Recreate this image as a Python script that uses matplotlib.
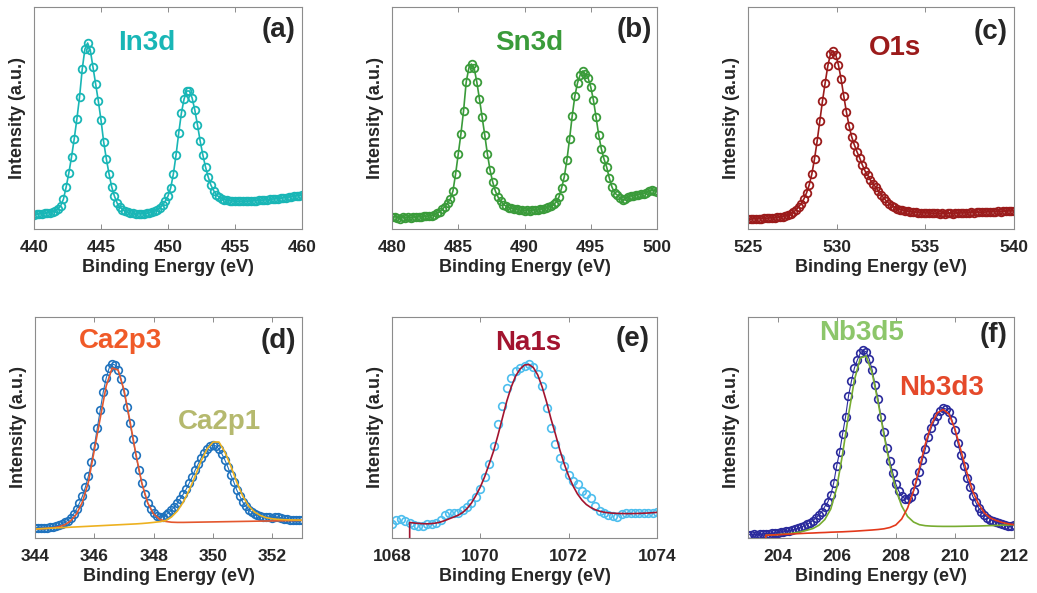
import numpy as np
import matplotlib
matplotlib.use('Agg')
import matplotlib.pyplot as plt

plt.rcParams['font.family'] = ['Liberation Sans', 'DejaVu Sans']
plt.rcParams['font.weight'] = 'bold'

# ---- (a) In3d, 440-460 eV every 0.2 eV ----
in3d_e = np.round(np.arange(440.0, 460.01, 0.2), 2)
in3d_i = [14.5, 14.8, 15.0, 15.3, 15.6, 16.0, 16.5, 17.2, 18.2, 20.0,
          23.5, 30, 42, 56, 72, 90, 110, 132, 160, 180,
          186, 179, 162, 145, 128, 109, 87, 70, 55, 42,
          33, 26, 22, 19.5, 17.8, 16.8, 16.0, 15.6, 15.3, 15.2,
          15.2, 15.3, 15.6, 16.2, 17.0, 18.0, 19.5, 21, 24, 28,
          33, 41, 55, 74, 96, 116, 130, 138, 138, 131,
          119, 104, 88, 74, 62, 52, 44, 38.5, 34.5, 32,
          30.5, 29.5, 28.8, 28.3, 28.0, 27.8, 27.7, 27.7, 27.7, 27.8,
          27.9, 28.0, 28.2, 28.4, 28.6, 28.8, 29.0, 29.3, 29.6, 29.9,
          30.2, 30.5, 30.8, 31.1, 31.5, 31.9, 32.3, 32.7, 33.1, 33.5, 34.0]

# ---- (b) Sn3d, 480-500 eV every 0.2 eV ----
sn3d_e = np.round(np.arange(480.0, 500.01, 0.2), 2)
sn3d_i = [12.0, 12.5, 11.5, 10.5, 11.8, 11.0, 12.2, 11.4, 12.0, 11.6,
          12.4, 12.0, 12.8, 12.6, 13.5, 13.2, 14.5, 15.8, 17.5, 19.8,
          22.5, 26, 30, 38, 55, 75, 95, 118, 147, 161,
          165, 161, 147, 130, 112, 94, 75, 59, 47, 38,
          32, 28, 24.5, 23, 21.5, 20.8, 20.0, 19.6, 19.0, 18.8,
          18.5, 19.2, 18.4, 18.9, 19.4, 19.0, 19.8, 20.3, 21.0, 22.0,
          23.0, 24.8, 27, 32, 41, 52, 69, 90, 113, 133,
          146, 154, 158, 155, 151, 142, 129, 112, 94, 80,
          70, 62, 51, 42, 36, 34, 31, 29, 30, 32.5,
          33, 33.5, 34, 34.5, 35, 35.5, 36.5, 38, 39, 38.5, 37.5]

# ---- (c) O1s, 525-540 eV every 0.15 eV ----
o1s_e = np.round(np.arange(525.0, 540.01, 0.15), 2)
o1s_i = [10.0, 9.8, 10.3, 10.1, 10.5, 10.4, 10.8, 10.6, 11.0, 11.2,
         11.1, 11.6, 12.0, 12.4, 13.0, 13.8, 15.0, 16.8, 19.0, 22.0,
         25.5, 30, 36, 44, 55, 70, 88, 108, 128, 146,
         163, 175, 178, 174, 164, 150, 133, 117, 103, 92,
         84, 77, 71, 64, 58, 54, 49, 45, 42, 38,
         34.5, 31, 28, 25.5, 23.5, 22, 20.5, 19.5, 18.8, 18.2,
         17.7, 17.3, 17.0, 16.8, 16.5, 16.3, 16.2, 16.0, 16.1, 15.8,
         15.6, 15.9, 15.4, 15.6, 15.3, 15.6, 15.8, 15.5, 16.0, 15.7,
         16.1, 16.0, 16.4, 16.2, 16.6, 16.4, 16.9, 16.7, 17.0, 16.8,
         17.3, 17.1, 17.5, 17.3, 17.6, 17.5, 17.9, 17.7, 18.1, 18.0, 18.3]

# ---- (d) Ca2p, data every 0.1 eV, fits every 0.2 eV ----
ca2p_e = np.round(np.arange(344.0, 353.01, 0.1), 2)
ca2p_i = [10.5, 10.2, 10.0, 10.4, 10.1, 10.6, 11.2, 12.0, 13.0, 14.2,
          15.8, 17.5, 20.5, 24, 29, 35, 42, 51, 62, 76,
          92, 110, 128, 146, 160, 170, 174, 173, 168, 159,
          146, 131, 115, 99, 83, 68, 55, 44, 35, 29,
          25, 22, 21, 21.5, 23, 25, 28, 31, 35, 39.5,
          44, 49, 55, 61, 68, 74, 80, 85, 89, 92,
          93, 92, 89, 84, 78, 71, 63, 56, 48, 42,
          36, 32, 28.5, 26, 24, 22.8, 22, 21.4, 21.0, 20.6,
          20.3, 20.6, 21.2, 20.1, 19.4, 18.8, 18.5, 18.2, 18.0, 17.8, 17.6]
ca2p_fit_e = np.r_[344.0, np.round(np.arange(344.0, 353.01, 0.2), 2)]
ca2p3_fit = [0, 9.0, 9.3, 9.6, 10.2, 11.2, 13.2, 17, 24, 36, 56,
             88, 120, 152, 170, 168, 148, 117, 84, 55, 35,
             24, 18.8, 16.6, 15.8, 15.6, 15.6, 15.7, 15.8, 15.9, 16.0,
             16.1, 16.2, 16.3, 16.4, 16.5, 16.6, 16.7, 16.8, 16.9, 17.0,
             17.1, 17.2, 17.3, 17.4, 17.5, 17.6]
ca2p1_fit = [0, 9.0, 9.3, 9.6, 9.9, 10.2, 10.5, 10.8, 11.1, 11.4, 11.7,
             12.0, 12.3, 12.6, 12.9, 13.2, 13.5, 13.8, 14.1, 14.5, 15.0,
             15.6, 16.3, 17.4, 21, 27, 36, 48, 62, 77, 89,
             96, 96, 86, 72, 56, 42, 32, 26, 22.5, 20.3,
             19.2, 18.6, 18.3, 18.1, 18.0, 17.9]

# ---- (e) Na1s ----
na1s_e = np.round(np.arange(1068.0, 1074.01, 0.1), 2)
na1s_i = [14.5, 18, 19.5, 17.5, 15, 13.5, 12, 12.3, 14, 14.5,
          15.5, 18, 23, 25, 25, 25.5, 28, 31.5, 35, 41,
          49, 61, 74, 92, 114, 132, 150, 160, 167, 170,
          172.5, 174, 171, 164, 152, 130, 110, 94, 80, 72,
          63, 57, 54, 47, 44, 40, 32, 27.5, 25, 23,
          22, 21.5, 24, 25.5, 25, 25, 25, 25, 25, 25.2, 25.7]
na1s_fit_e = np.r_[1068.4, np.round(np.arange(1068.4, 1074.01, 0.1), 2)]
na1s_fit = [0, 15.5, 15.0, 14.6, 14.3, 14.2, 14.4, 15.0, 16.0, 17.5, 19.3,
            21.0, 22.8, 25.5, 29.5, 35, 42.5, 51, 61.5, 74, 87,
            103, 120, 137, 151, 162, 169, 173, 173.5, 170.5, 163,
            151, 136, 119, 104, 88, 74, 62, 52, 44, 38,
            33.5, 30.5, 28.3, 26.8, 25.8, 25.2, 24.8, 24.6, 24.5, 24.4,
            24.4, 24.5, 24.6, 24.8, 25.0, 25.3, 25.6]

# ---- (f) Nb3d ----
nb3d_e = np.round(np.arange(203.0, 212.01, 0.1), 2)
nb3d_i = [3.3, 3.4, 3.6, 3.5, 3.8, 4.0, 4.2, 4.3, 4.6, 5.0,
          5.4, 5.8, 6.2, 6.8, 7.3, 8.0, 8.8, 9.8, 11.0, 12.3,
          13.8, 15.4, 17.5, 20, 22.7, 26.5, 31.5, 36, 43, 55,
          72, 86, 104, 121, 142, 157, 170, 178, 185, 187.7,
          186, 179, 168, 153, 139, 121, 106, 90, 77, 65,
          54, 47, 42, 39.3, 39, 41.5, 47, 56, 66, 78,
          89, 101, 110, 117, 122, 127, 130, 129, 126, 118,
          108, 95, 83, 72, 60, 51, 42, 36, 30, 26,
          23, 20.5, 18.5, 17, 16, 15.2, 14, 13.2, 12.5, 11.8, 13.3]
nb3d_fit_e = np.r_[203.6, np.round(np.arange(203.6, 212.01, 0.2), 2)]
nb3d5_fit = [0, 2.7, 3.0, 3.4, 3.8, 4.4, 5.2, 6.3, 7.8, 9.5, 12.8,
             18.5, 29, 50, 84, 123, 158, 180, 182, 165, 136,
             103, 73, 49, 32, 21.5, 16, 13.3, 12.3, 11.9, 11.7,
             11.6, 11.6, 11.6, 11.7, 11.8, 11.9, 12.0, 12.2, 12.4, 12.6,
             12.8, 13.0, 13.3]
nb3d3_fit = [0, 2.7, 3.0, 3.3, 3.6, 3.9, 4.2, 4.5, 4.8, 5.0, 5.3,
             5.5, 5.8, 6.0, 6.2, 6.5, 6.8, 7.2, 7.6, 8.0, 8.5,
             9.2, 10.5, 13, 19, 30, 47, 70, 94, 113, 125,
             128.5, 124, 109, 88, 66, 47, 34, 25, 20, 17.5,
             15.5, 14.2, 13.3]

TXT = '#262626'
W, H = 1037, 593
fig = plt.figure(figsize=(W / 100, H / 100), dpi=100)


def make_ax(left, top, right, bottom, xlim, xticks, ymax):
    ax = fig.add_axes([left / W, 1 - bottom / H, (right - left) / W, (bottom - top) / H])
    ax.set_xlim(*xlim)
    ax.set_ylim(0, ymax)
    ax.set_xticks(xticks)
    ax.set_yticks([])
    for s in ax.spines.values():
        s.set_color('#8c8c8c')
        s.set_linewidth(0.8)
    ax.tick_params(axis='x', direction='in', top=True, length=3.5, width=0.7,
                   color='#8c8c8c', labelcolor=TXT, labelsize=12.5, pad=8)
    ax.set_xlabel('Binding Energy (eV)', fontsize=13, fontweight='bold', color=TXT, labelpad=3)
    ax.set_ylabel('Intensity (a.u.)', fontsize=13, fontweight='bold', color=TXT, labelpad=6)
    return ax


def tag(ax, s, x, y):
    ax.text(x, y, s, transform=ax.transAxes, ha='right', va='center',
            fontsize=20, fontweight='bold', color=TXT)


def name(ax, s, x, y, c):
    ax.text(x, y, s, transform=ax.transAxes, ha='center', va='center',
            fontsize=20, fontweight='bold', color=c)


# top row
ax = make_ax(34, 7, 302, 229, (440, 460), range(440, 461, 5), 222)
ax.plot(in3d_e, in3d_i, '-o', color='#19B6B6', ms=5.5, mfc='none', mew=1.3, lw=1.2)
name(ax, 'In3d', 0.42, 0.838, '#19B6B6')
tag(ax, '(a)', 0.974, 0.896)

ax = make_ax(392, 7, 657, 229, (480, 500), range(480, 501, 5), 222)
ax.plot(sn3d_e, sn3d_i, '-o', color='#3A9B3A', ms=5.5, mfc='none', mew=1.3, lw=1.2)
name(ax, 'Sn3d', 0.517, 0.838, '#3A9B3A')
tag(ax, '(b)', 0.98, 0.896)

ax = make_ax(748, 7, 1014, 229, (525, 540), range(525, 541, 5), 222)
ax.plot(o1s_e, o1s_i, '-o', color='#9B1B1B', ms=5.5, mfc='none', mew=1.3, lw=1.2)
name(ax, 'O1s', 0.553, 0.815, '#9B1B1B')
tag(ax, '(c)', 0.977, 0.887)

# bottom row
ax = make_ax(35, 317, 302, 538, (344, 353), range(344, 353, 2), 221)
ax.plot(ca2p_e, ca2p_i, '-o', color='#1F72BD', ms=5.5, mfc='none', mew=1.2, lw=0.8)
ax.plot(ca2p_fit_e, ca2p3_fit, color='#E4572E', lw=1.2)
ax.plot(ca2p_fit_e, ca2p1_fit, color='#EDB120', lw=1.2)
name(ax, 'Ca2p3', 0.322, 0.89, '#F05A28')
name(ax, 'Ca2p1', 0.689, 0.525, '#B5B96E')
tag(ax, '(d)', 0.977, 0.89)

ax = make_ax(392, 317, 657, 538, (1068, 1074), range(1068, 1075, 2), 221)
ax.plot(na1s_e, na1s_i, 'o', color='#4DBEEE', ms=5.5, mfc='none', mew=1.2)
ax.plot(na1s_fit_e, na1s_fit, color='#A2142F', lw=1.2)
name(ax, 'Na1s', 0.515, 0.882, '#A2142F')
tag(ax, '(e)', 0.974, 0.9)

ax = make_ax(748, 317, 1014, 538, (203, 212), range(204, 213, 2), 221)
ax.plot(nb3d_e, nb3d_i, '-o', color='#2A2A9C', ms=5.5, mfc='none', mew=1.2, lw=0.8)
ax.plot(nb3d_fit_e, nb3d5_fit, color='#77AC30', lw=1.2)
ax.plot(nb3d_fit_e, nb3d3_fit, color='#E3391B', lw=1.2)
name(ax, 'Nb3d5', 0.427, 0.928, '#8CC66A')
name(ax, 'Nb3d3', 0.727, 0.679, '#E5492A')
tag(ax, '(f)', 0.977, 0.92)

fig.savefig('out.png', dpi=100, facecolor='white')
